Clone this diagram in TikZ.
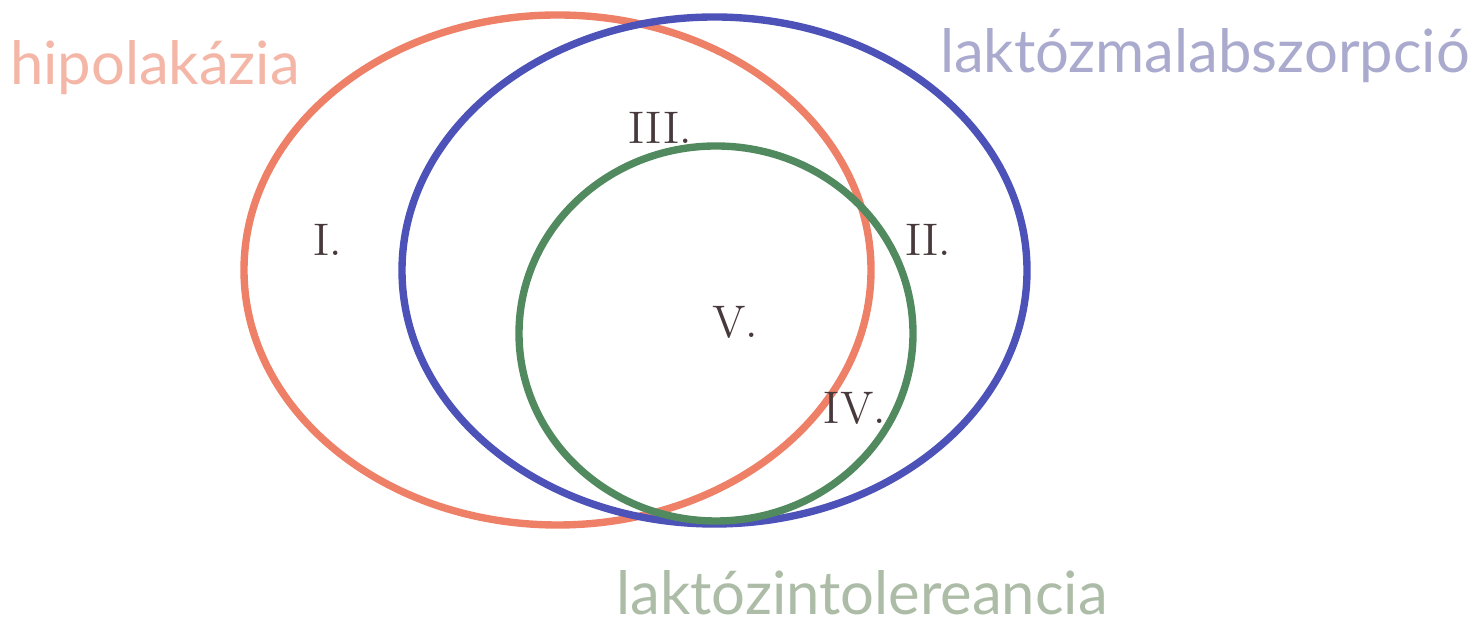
\documentclass[tikz,border=0pt]{standalone}
\usepackage{fontspec}
\usepackage{tikz}
\usetikzlibrary{shapes.geometric}
\newfontfamily\labelfont{Lato}
\definecolor{hipoline}{RGB}{238,128,104}
\definecolor{malline}{RGB}{76,82,184}
\definecolor{intline}{RGB}{82,138,96}
\definecolor{hipotext}{RGB}{244,182,166}
\definecolor{maltext}{RGB}{170,170,206}
\definecolor{inttext}{RGB}{172,188,166}
\definecolor{numtext}{RGB}{72,58,60}
\tikzset{
  set/.style={ellipse, draw, line width=2.1pt, inner sep=0pt},
  setname/.style={font=\labelfont\fontsize{17}{19}\selectfont, anchor=base, inner sep=0pt},
  region/.style={font=\fontsize{13}{15}\selectfont, text=numtext}
}

\begin{document}
\begin{tikzpicture}
  \useasboundingbox (0,0) rectangle (14.78,6.24);
  % the three sets
  \node[set, hipoline, minimum width=6.27cm, minimum height=5.10cm] (hipo) at (5.575,3.54) {};
  \node[set, malline,  minimum width=6.25cm, minimum height=5.07cm] (mal)  at (7.145,3.535) {};
  \node[set, intline,  minimum width=3.94cm, minimum height=3.75cm] (int)  at (7.16,2.905) {};

  % names of the sets
  \node[setname, text=hipotext] (hiponame) at (1.55,5.39) {hipolakázia};
  \node[setname, text=maltext]  (malname)  at (12.05,5.51) {laktózmalabszorpció};
  \node[setname, text=inttext]  (intname)  at (8.62,0.09) {laktózintolereancia};

  % regions
  \node[region] (one)   at (3.28,3.84) {I.};
  \node[region] (two)   at (9.28,3.84) {II.};
  \node[region] (three) at (6.60,4.96) {III.};
  \node[region] (four)  at (8.55,2.16) {IV.};
  \node[region] (five)  at (7.35,3.02) {V.};
\end{tikzpicture}
\end{document}
